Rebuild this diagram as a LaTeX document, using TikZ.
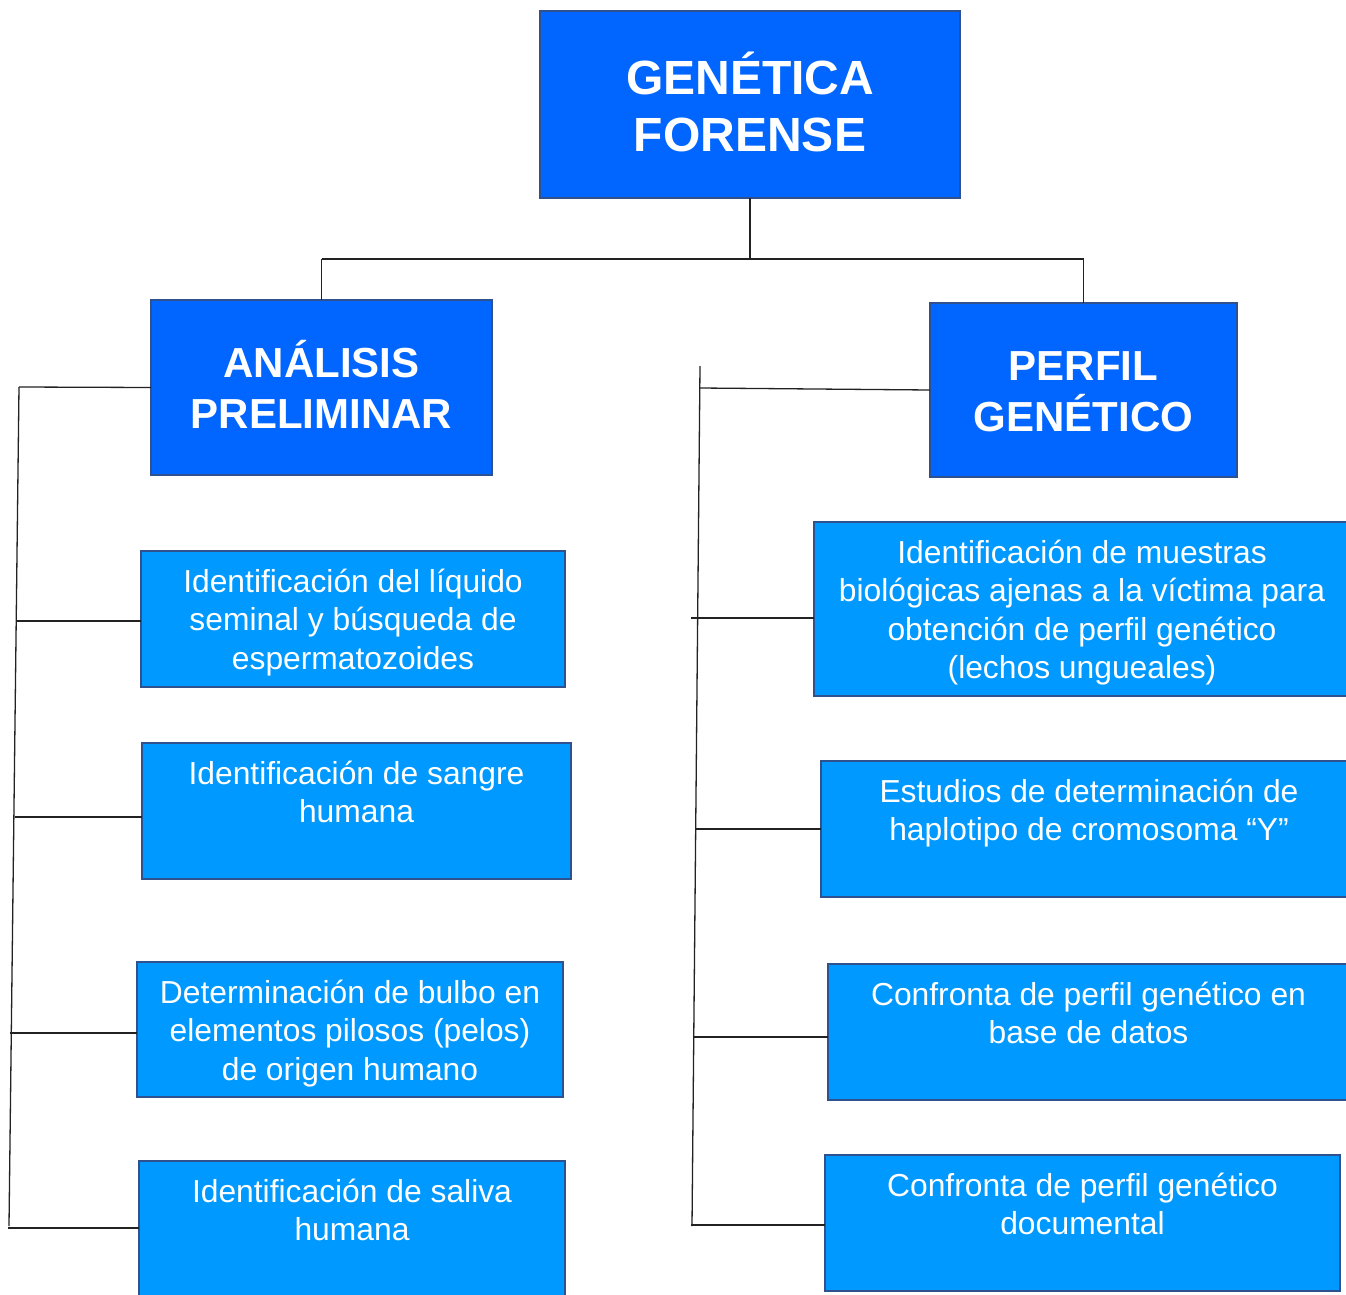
\documentclass[tikz,border=0pt]{standalone}
\usepackage{fontspec}
\setmainfont{Liberation Sans}
\definecolor{dblue}{HTML}{0066FF}
\definecolor{lblue}{HTML}{0099FF}
\definecolor{bord}{HTML}{2F528F}
\definecolor{lnc}{HTML}{222222}
\newcommand\Sa{\rule{0pt}{30pt}}
\begin{document}
\begin{tikzpicture}[x=1pt,y=-1pt,
  boxbase/.style={draw=bord,line width=1.4pt,inner sep=0pt,outer sep=0pt},
  dbox/.style={boxbase,fill=dblue},
  lbox/.style={boxbase,fill=lblue},
  ttla/.style={text=white,inner sep=0pt,anchor=north,align=center,font=\bfseries\fontsize{48}{57}\selectfont},
  ttlb/.style={text=white,inner sep=0pt,anchor=north,align=center,font=\bfseries\fontsize{42}{51}\selectfont},
  txt/.style={text=white,inner sep=0pt,anchor=north,align=center,font=\fontsize{31.8}{38.5}\selectfont},
  conn/.style={draw=lnc,line width=1.3pt}]
\useasboundingbox[fill=white] (0,0) rectangle (1346,1295);

% main boxes
\node[dbox,minimum width=420,minimum height=187] (top) at (750,104.5) {};
\node[ttla] (topT) at (750,44) {\rule{0pt}{50pt}GENÉTICA\\FORENSE};
\node[dbox,minimum width=341,minimum height=175] (ana) at (321.5,387.5) {};
\node[ttlb] (anaT) at (321.5,333) {\rule{0pt}{44pt}ANÁLISIS\\PRELIMINAR};
\node[dbox,minimum width=307,minimum height=174] (per) at (1083.5,390) {};
\node[ttlb] (perT) at (1083.5,336) {\rule{0pt}{44pt}PERFIL\\GENÉTICO};

% left boxes
\node[lbox,minimum width=424,minimum height=136] (l1) at (353,619) {};
\node[txt] (l1T) at (353,562) {\Sa Identificación del líquido\\seminal y búsqueda de\\espermatozoides};
\node[lbox,minimum width=429,minimum height=136] (l2) at (356.5,811) {};
\node[txt] (l2T) at (356.5,754) {\Sa Identificación de sangre\\humana};
\node[lbox,minimum width=426,minimum height=135] (l3) at (350,1029.5) {};
\node[txt] (l3T) at (350,973) {\Sa Determinación de bulbo en\\elementos pilosos (pelos)\\de origen humano};
\node[lbox,minimum width=426,minimum height=150] (l4) at (352,1236) {};
\node[txt] (l4T) at (352,1172) {\Sa Identificación de saliva\\humana};

% right boxes
\node[lbox,minimum width=536,minimum height=174] (r1) at (1082,609) {};
\node[txt] (r1T) at (1082,533) {\Sa Identificación de muestras\\biológicas ajenas a la víctima para\\obtención de perfil genético\\(lechos ungueales)};
\node[lbox,minimum width=536,minimum height=136] (r2) at (1089,829) {};
\node[txt] (r2T) at (1089,772) {\Sa Estudios de determinación de\\haplotipo de cromosoma “Y”};
\node[lbox,minimum width=521,minimum height=136] (r3) at (1088.5,1032) {};
\node[txt] (r3T) at (1088.5,975) {\Sa Confronta de perfil genético en\\base de datos};
\node[lbox,minimum width=515,minimum height=136] (r4) at (1082.5,1223) {};
\node[txt] (r4T) at (1082.5,1166) {\Sa Confronta de perfil genético\\documental};

% top connectors
\coordinate (tj) at (750,259);
\coordinate (hL) at (321.5,259);
\coordinate (hR) at (1083.5,259);
\draw[conn] (top.south) -- (tj);
\draw[conn] (hL) -- (hR);
\draw[conn] (hL) -- (ana.north);
\draw[conn] (hR) -- (per.north);

% left spine
\coordinate (LsT) at (19,387);
\coordinate (LsB) at (9,1226);
\draw[conn] (LsT) -- (LsB);
\draw[conn] (LsT) -- (ana.west);
\coordinate (l1e) at (17,621);
\coordinate (l2e) at (15,817);
\coordinate (l3e) at (10,1033);
\coordinate (l4e) at (8,1228);
\draw[conn] (l1e) -- (l1e -| l1.west);
\draw[conn] (l2e) -- (l2e -| l2.west);
\draw[conn] (l3e) -- (l3e -| l3.west);
\draw[conn] (l4e) -- (l4e -| l4.west);

% right spine
\coordinate (RsT) at (700,366);
\coordinate (RsB) at (692,1226);
\coordinate (Rh) at (700,388);
\draw[conn] (RsT) -- (RsB);
\draw[conn] (Rh) -- (per.west);
\coordinate (r1e) at (691,618);
\coordinate (r2e) at (695,829);
\coordinate (r3e) at (693,1037);
\coordinate (r4e) at (691,1225);
\draw[conn] (r1e) -- (r1e -| r1.west);
\draw[conn] (r2e) -- (r2e -| r2.west);
\draw[conn] (r3e) -- (r3e -| r3.west);
\draw[conn] (r4e) -- (r4e -| r4.west);
\end{tikzpicture}
\end{document}
